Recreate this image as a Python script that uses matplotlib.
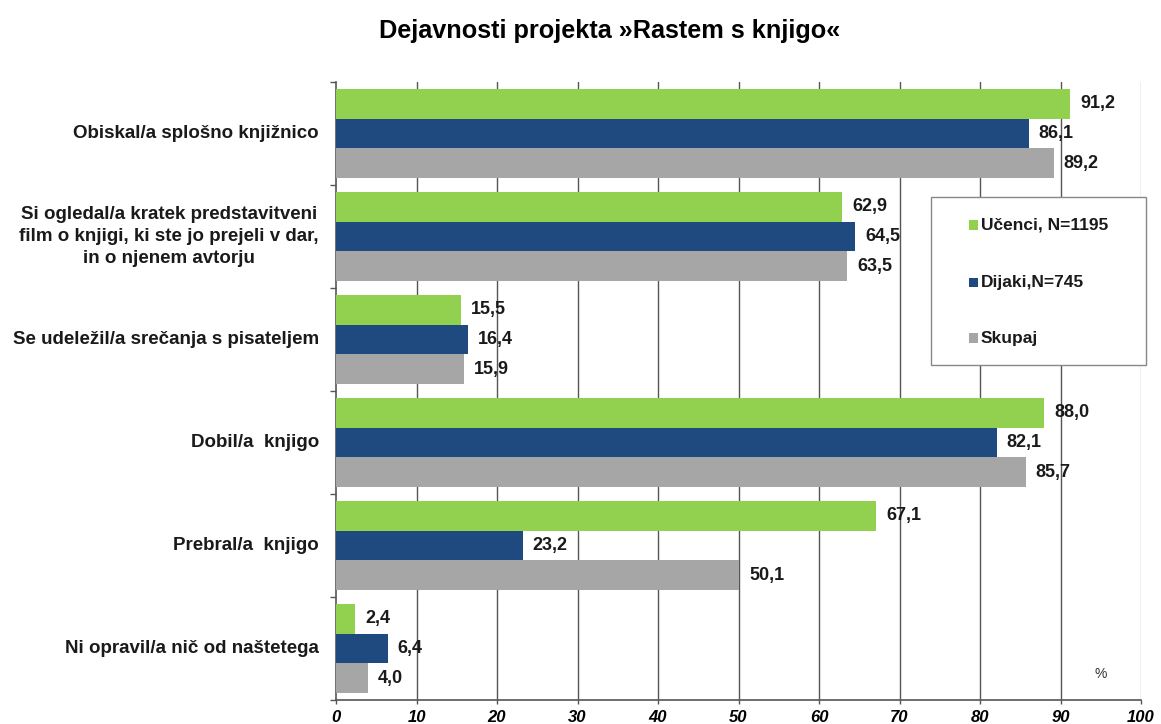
import matplotlib
matplotlib.use("Agg")
import matplotlib.pyplot as plt
import numpy as np
from matplotlib.patches import Rectangle

plt.rcParams['font.family'] = ['Liberation Sans', 'DejaVu Sans']

title = "Dejavnosti projekta »Rastem s knjigo«"
categories = [
    "Obiskal/a splošno knjižnico",
    "Si ogledal/a kratek predstavitveni\nfilm o knjigi, ki ste jo prejeli v dar,\nin o njenem avtorju",
    "Se udeležil/a srečanja s pisateljem",
    "Dobil/a  knjigo",
    "Prebral/a  knjigo",
    "Ni opravil/a nič od naštetega",
]
series_names = ["Učenci, N=1195", "Dijaki,N=745", "Skupaj"]
ucenci = [91.2, 62.9, 15.5, 88.0, 67.1, 2.4]
dijaki = [86.1, 64.5, 16.4, 82.1, 23.2, 6.4]
skupaj = [89.2, 63.5, 15.9, 85.7, 50.1, 4.0]
x_ticks = [0, 10, 20, 30, 40, 50, 60, 70, 80, 90, 100]

colors = ["#92D050", "#1F4A80", "#A6A6A6"]

W, H = 1161, 724
fig = plt.figure(figsize=(W/100, H/100), dpi=100)
ax = fig.add_axes([336/W, 1-700/H, (1141-336)/W, (700-82)/H])

y = np.arange(len(categories))
h = 0.291
for i, (vals, col) in enumerate(zip([ucenci, dijaki, skupaj], colors)):
    pos = y + (i - 1) * h
    ax.barh(pos, vals, height=h, color=col, zorder=3)
    for p, v in zip(pos, vals):
        ax.annotate(f"{v:.1f}".replace('.', ','), xy=(v, p), xytext=(7, 0),
                    textcoords='offset points', va='center', ha='left',
                    fontsize=13, fontweight='bold', color='#1a1a1a', zorder=5)

ax.set_xlim(0, 100)
ax.set_ylim(len(categories) - 0.5, -0.5)
ax.set_xticks(x_ticks)
ax.set_xticklabels([str(t) for t in x_ticks], fontstyle='italic', fontweight='bold', fontsize=12)
ax.set_yticks(np.arange(-0.5, len(categories), 1.0))
ax.set_yticklabels([])
ax.tick_params(axis='y', length=4, color='#555555', width=1)
ax.tick_params(axis='x', length=3, color='#555555', width=1, pad=4)

for t in x_ticks[1:]:
    ax.axvline(t, color='#555555' if t < 100 else '#b0b0b0', lw=1, zorder=1)

for s in ['top', 'right']:
    ax.spines[s].set_visible(False)
ax.spines['left'].set_color('#555555')
ax.spines['bottom'].set_color('#555555')
ax.spines['left'].set_linewidth(1.2)
ax.spines['bottom'].set_linewidth(1.2)

for yi, cat in zip(y, categories):
    ax.text(-0.021, yi, cat, transform=ax.get_yaxis_transform(), ha='right', va='center',
            multialignment='center', fontsize=13.5, fontweight='bold', color='#1a1a1a',
            linespacing=1.38)

ax.text(95, 5.25, "%", ha='center', va='center', fontsize=10, color='#333333')

fig.text(0.525, 0.957, title, ha='center', va='center', fontsize=18.2, fontweight='bold')

# legend box (manual)
lx0, lx1, ly0, ly1 = 931, 1146, 197, 365
fig.add_artist(Rectangle((lx0/W, 1-ly1/H), (lx1-lx0)/W, (ly1-ly0)/H,
                         transform=fig.transFigure, facecolor='white',
                         edgecolor='#888888', lw=1, zorder=10))
entry_y = [225, 283, 338]
for ey, name, col in zip(entry_y, series_names, colors):
    fig.add_artist(Rectangle((969/W, 1-(ey+4.5)/H), 9/W, 9/H, transform=fig.transFigure,
                             facecolor=col, edgecolor='none', zorder=11))
    fig.text(981/W, 1-ey/H, name, ha='left', va='center', fontsize=12.5,
             fontweight='bold', color='#1a1a1a', zorder=12)

fig.savefig("out.png", dpi=100)
